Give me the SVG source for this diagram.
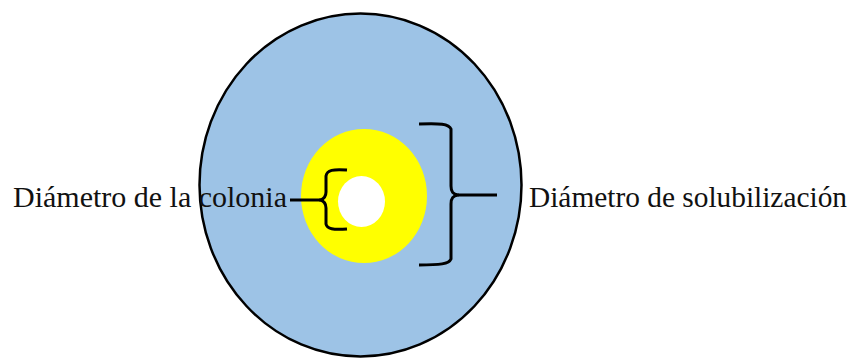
<svg xmlns="http://www.w3.org/2000/svg" width="852" height="358" viewBox="0 0 852 358">
<style>
.lbl{font-family:"Liberation Serif","Times New Roman",serif;font-size:29.6px;fill:#111}
.brace{fill:none;stroke:#000;stroke-width:3;stroke-linejoin:round;stroke-linecap:butt}
</style>
<rect width="852" height="358" fill="#fff"/>
<g id="plate">
<ellipse cx="360.5" cy="185" rx="161" ry="171.5" fill="#9DC3E6" stroke="#000" stroke-width="2.5"/>
</g>
<g id="halo">
<ellipse cx="364" cy="196" rx="63" ry="67" fill="#FFFF00"/>
</g>
<g id="colony">
<ellipse cx="361.5" cy="201.5" rx="23.5" ry="25.5" fill="#fff"/>
</g>
<g id="connectors">
<path class="brace" d="M347,170 C333,169 327,170 326,176 L326,192 C326,197 324,199 320,200 C324,201 326,203 326,208 L326,224 C327,229 333,230 347,229"/>
<path class="brace" d="M290,200 L320,200"/>
<path class="brace" d="M419,124 C440,123 449,124 451,129 L451,186 C451,192 453,194 458,195 C453,196 451,198 451,204 L451,259 C449,264 440,265 419,265"/>
<path class="brace" d="M458,195 L497,195"/>
</g>
<g id="label-colonia">
<text class="lbl" x="13" y="207" textLength="274" lengthAdjust="spacingAndGlyphs">Diámetro de la colonia</text>
</g>
<g id="label-solubilizacion">
<text class="lbl" x="529" y="207" textLength="318" lengthAdjust="spacingAndGlyphs">Diámetro de solubilización</text>
</g>
</svg>
